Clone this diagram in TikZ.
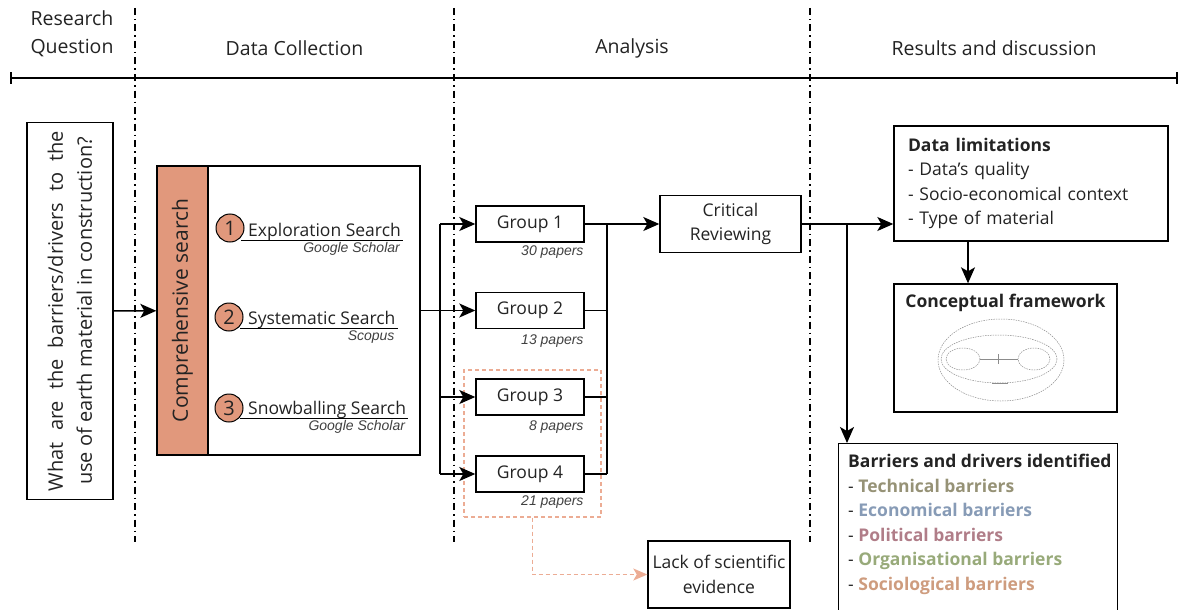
\documentclass[tikz,border=0pt]{standalone}
\usepackage{fontspec}
\setmainfont{Open Sans}
\newfontfamily\notefamily{Liberation Sans}
\usepackage{tikz}
\usetikzlibrary{arrows.meta}

\definecolor{clay}{RGB}{225,152,124}
\definecolor{claylight}{RGB}{236,172,148}
\definecolor{techcol}{RGB}{150,146,118}
\definecolor{econcol}{RGB}{135,155,182}
\definecolor{polcol}{RGB}{176,125,136}
\definecolor{orgcol}{RGB}{152,170,122}
\definecolor{sociocol}{RGB}{206,156,126}
\definecolor{inkcol}{RGB}{35,35,35}

\newcommand{\phasefont}{\fontsize{19.5}{28}\selectfont}
\newcommand{\boxfont}{\fontsize{17.5}{24.5}\selectfont}
\newcommand{\askfont}{\fontsize{20}{29}\selectfont}
\newcommand{\stripfont}{\fontsize{21}{25}\selectfont}
\newcommand{\paperfont}{\notefamily\itshape\fontsize{14}{16}\selectfont}

\begin{document}
\begin{tikzpicture}[x=1pt,y=-1pt,>={Stealth[length=16pt,width=14pt,inset=4pt]},
   text=inkcol,
   box/.style={draw,line width=1.4pt,inner sep=0pt,align=center,font=\boxfont},
   phase/.style={line width=1.4pt,dash pattern=on 7pt off 4pt on 1.5pt off 4pt},
   link/.style={line width=1.5pt},
   paper/.style={font=\paperfont,text=black!75,inner sep=1pt},
   lag/.style={draw=claylight,line width=1.2pt,dash pattern=on 4pt off 3pt}]

   \useasboundingbox (0,0) rectangle (1180,610);

   % phases
   \node[font=\phasefont,align=center] (hrq) at (72,34) {Research\\Question};
   \node[font=\phasefont] (hdc) at (294.5,48) {Data Collection};
   \node[font=\phasefont] (han) at (632,48) {Analysis};
   \node[font=\phasefont] (hrd) at (994,48) {Results and discussion};

   \coordinate (tl) at (11,78);
   \coordinate (tr) at (1177,78);
   \draw[line width=1.6pt] (tl) -- (tr);
   \draw[line width=1.6pt] ([yshift=6pt]tl) -- ([yshift=-6pt]tl);
   \draw[line width=1.6pt] ([yshift=6pt]tr) -- ([yshift=-6pt]tr);

   \foreach \px in {135,454,810}
      \draw[phase] (\px,8) -- (\px,542);

   % research question
   \node[box,rotate=90,minimum width=377pt,minimum height=86pt,font=\askfont] (rq) at (70,311)
      {\makebox[360pt][s]{What are the barriers/drivers to the}\\use of earth material in construction?};

   % data collection
   \node[box,minimum width=263pt,minimum height=289pt] (comp) at (288.5,310.5) {};
   \node[box,fill=clay,rotate=90,minimum width=289pt,minimum height=51pt,font=\stripfont] (strip) at (182.5,310.5) {Comprehensive search};

   \node[circle,draw,fill=clay,line width=1pt,minimum size=28pt,inner sep=0pt,font=\askfont] (c1) at (230,228) {1};
   \node[circle,draw,fill=clay,line width=1pt,minimum size=28pt,inner sep=0pt,font=\askfont] (c2) at (229,317) {2};
   \node[circle,draw,fill=clay,line width=1pt,minimum size=28pt,inner sep=0pt,font=\askfont] (c3) at (229,408) {3};

   \node[anchor=base west,inner sep=0pt,font=\boxfont] (s1) at (248,236) {Exploration Search};
   \node[anchor=base west,inner sep=0pt,font=\boxfont] (s2) at (248,324) {Systematic Search};
   \node[anchor=base west,inner sep=0pt,font=\boxfont] (s3) at (248,414) {Snowballing Search};

   \draw[line width=1.1pt] (c1.-40 |- s1.south) -- ([xshift=2pt]s1.south east);
   \draw[line width=1.1pt] (c2.-40 |- s2.south) -- ([xshift=2pt]s2.south east);
   \draw[line width=1.1pt] (c3.-40 |- s3.south) -- ([xshift=2pt]s3.south east);

   \node[paper,anchor=north east] (o1) at ([yshift=-1pt]s1.south east) {Google Scholar};
   \node[paper,anchor=north east] (o2) at ([yshift=-1pt]s2.south east) {Scopus};
   \node[paper,anchor=north east] (o3) at ([yshift=-1pt]s3.south east) {Google Scholar};

   % analysis
   \node[lag,minimum width=137pt,minimum height=147pt] (late) at (532.5,443.5) {};

   \node[box,minimum width=108pt,minimum height=36pt] (gr1) at (530,224) {Group 1};
   \node[box,minimum width=108pt,minimum height=36pt] (gr2) at (530,310.5) {Group 2};
   \node[box,minimum width=108pt,minimum height=36pt] (gr3) at (530,397) {Group 3};
   \node[box,minimum width=108pt,minimum height=36pt] (gr4) at (530,474) {Group 4};

   \node[paper,anchor=north east] (p1) at ([yshift=-2pt]gr1.south east) {30 papers};
   \node[paper,anchor=north east] (p2) at ([yshift=-4pt]gr2.south east) {13 papers};
   \node[paper,anchor=north east] (p3) at ([yshift=-4pt]gr3.south east) {8 papers};
   \node[paper,anchor=north east] (p4) at ([yshift=-2pt]gr4.south east) {21 papers};

   \node[box,minimum width=141pt,minimum height=57pt] (crit) at (730.5,224) {Critical\\Reviewing};
   \node[box,minimum width=142pt,minimum height=67pt] (lack) at (719,574.5) {Lack of scientific\\evidence};

   \coordinate (split) at (440,310.5);
   \coordinate (join) at (607,224);

   \draw[->,link] (rq) -- (comp);
   \draw[->,link] (comp) -- (gr2);
   \draw[link] (split |- gr1) -- (split |- gr4);
   \draw[->,link] (split |- gr1) -- (gr1);
   \draw[->,link] (split |- gr3) -- (gr3);
   \draw[->,link] (split |- gr4) -- (gr4);

   \draw[link] (gr2) -- (join |- gr2);
   \draw[link] (gr3) -- (join |- gr3);
   \draw[link] (gr4) -- (join |- gr4);
   \draw[link] (join) -- (join |- gr4);
   \draw[->,link] (gr1) -- (crit);

   \draw[lag,-{Stealth[length=14pt,width=12pt,inset=3.5pt]}] (late.south) |- (lack.west);

   % results
   \node[box,minimum width=274pt,minimum height=115pt,text width=246pt,align=left] (dlim) at (1031,183.5)
      {\textbf{Data limitations}\\- Data’s quality\\- Socio-economical context\\- Type of material};

   \node[box,minimum width=223pt,minimum height=128pt] (conc) at (1005.5,348) {};
   \node[font=\boxfont\bfseries] (conct) at (1005.5,303) {Conceptual framework};
   \begin{scope}[black!45,line width=0.5pt,dash pattern=on 1.5pt off 1pt]
      \draw (1001,360) ellipse [x radius=63, y radius=41];
      \draw (999,359) ellipse [x radius=58, y radius=24];
      \draw (963,359) ellipse [x radius=17, y radius=11];
      \draw (1034,359) ellipse [x radius=16, y radius=11];
   \end{scope}
   \draw[black!45,line width=0.5pt] (980,359) -- (1018,359);
   \draw[black!45,line width=0.5pt] (998,354) -- (998,364);
   \draw[black!45,line width=0.9pt] (992,383) -- (1008,383);

   \node[box,anchor=north west,minimum width=279pt,minimum height=190pt] (barr) at (838,443) {};
   \node[anchor=north west,align=left,inner sep=0pt,font=\boxfont] (barrt) at ([xshift=10pt,yshift=-11pt]barr.north west)
      {\textbf{Barriers and drivers identified}\\
       - \textbf{\color{techcol}Technical barriers}\\
       - \textbf{\color{econcol}Economical barriers}\\
       - \textbf{\color{polcol}Political barriers}\\
       - \textbf{\color{orgcol}Organisational barriers}\\
       - \textbf{\color{sociocol}Sociological barriers}};

   \coordinate (fork) at (847,224);
   \coordinate (drop) at (968,241);

   \draw[->,link] (crit) -- (crit -| dlim.west);
   \draw[->,link] (fork) -- (fork |- barr.north);
   \draw[->,link] (dlim.south -| drop) -- (conc.north -| drop);
\end{tikzpicture}
\end{document}
